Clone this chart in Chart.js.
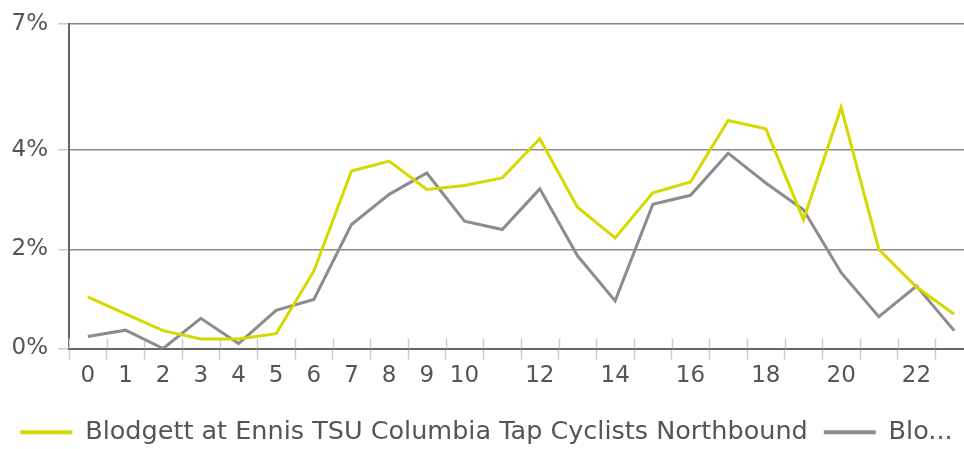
<!DOCTYPE html>
<html>
<head>
<meta charset="utf-8">
<script src="https://cdn.jsdelivr.net/npm/chart.js@4/dist/chart.umd.min.js"></script>
<style>
  html, body { margin: 0; padding: 0; background: #fff; overflow: hidden; }
  #wrap { position: relative; width: 980px; height: 455px; }
</style>
</head>
<body>
<div id="wrap"><canvas id="hourChart"></canvas></div>
<script>
// hours of the day
var hours = ['0','1','2','3','4','5','6','7','8','9','10','11','12','13','14','15','16','17','18','19','20','21','22','23'];

// share of daily count per hour (%)
var northbound = [1.04, 0.70, 0.36, 0.19, 0.19, 0.30, 1.56, 3.58, 3.78, 3.21, 3.29, 3.44,
                  4.23, 2.85, 2.23, 3.14, 3.36, 4.60, 4.43, 2.60, 4.86, 2.00, 1.24, 0.69];
var southbound = [0.24, 0.37, 0.00, 0.61, 0.10, 0.77, 0.99, 2.50, 3.11, 3.54, 2.57, 2.40,
                  3.22, 1.87, 0.96, 2.91, 3.09, 3.94, 3.34, 2.80, 1.53, 0.64, 1.26, 0.36];

var seriesNames = ['Blodgett at Ennis TSU Columbia Tap Cyclists Northbound', 'Blo...'];
var yTicks = [0, 2, 4, 6.55];

var FONT = '"DejaVu Sans"';
var TEXT = '#555';

// short tick marks that cross the x axis line (the part above it)
var crossTicks = {
  id: 'crossTicks',
  beforeDatasetsDraw: function (chart) {
    var x = chart.scales.x, ctx = chart.ctx;
    var half = (x.getPixelForValue(1) - x.getPixelForValue(0)) / 2;
    ctx.save();
    ctx.strokeStyle = '#ccc';
    ctx.lineWidth = 1.5;
    for (var i = 0; i <= hours.length; i++) {
      var px = Math.round(x.getPixelForValue(i) - half) + 0.5;
      ctx.beginPath();
      ctx.moveTo(px, x.top - 10);
      ctx.lineTo(px, x.top);
      ctx.stroke();
    }
    ctx.restore();
  }
};

new Chart(document.getElementById('hourChart'), {
  type: 'line',
  data: {
    labels: hours,
    datasets: [
      {
        label: seriesNames[0],
        data: northbound,
        borderColor: '#d4d900',
        backgroundColor: '#d4d900',
        borderWidth: 3,
        pointRadius: 0,
        tension: 0
      },
      {
        label: seriesNames[1],
        data: southbound,
        borderColor: '#8c8c8c',
        backgroundColor: '#8c8c8c',
        borderWidth: 3,
        pointRadius: 0,
        tension: 0
      }
    ]
  },
  options: {
    responsive: true,
    maintainAspectRatio: false,
    animation: false,
    layout: { padding: { top: 8, right: 7, left: 0, bottom: 0 } },
    plugins: {
      tooltip: { enabled: false },
      legend: {
        position: 'bottom',
        labels: {
          font: { family: FONT, size: 25.5 },
          color: TEXT,
          boxWidth: 52,
          boxHeight: 4,
          padding: 16,
          generateLabels: function (chart) {
            return chart.data.datasets.map(function (ds, i) {
              return {
                text: ds.label,
                fillStyle: ds.borderColor,
                strokeStyle: ds.borderColor,
                lineWidth: 0,
                fontColor: TEXT,
                datasetIndex: i
              };
            });
          }
        }
      }
    },
    scales: {
      x: {
        offset: true,
        afterFit: function (scale) { scale.height = 55; },
        grid: {
          offset: true,
          drawOnChartArea: false,
          tickLength: 11,
          tickColor: '#ccc',
          tickWidth: 1.5
        },
        border: { color: '#666', width: 2 },
        ticks: {
          autoSkip: false,
          maxRotation: 0,
          padding: 3,
          color: TEXT,
          font: { family: FONT, size: 23 },
          callback: function (v) {
            return (v <= 10 || v % 2 === 0) ? hours[v] : '';
          }
        }
      },
      y: {
        min: 0,
        max: 6.55,
        afterBuildTicks: function (scale) {
          scale.ticks = yTicks.map(function (v) { return { value: v }; });
        },
        afterFit: function (scale) { scale.width = 69; },
        grid: {
          color: '#8a8a8a',
          lineWidth: 1.5,
          tickLength: 11,
          tickColor: '#ccc'
        },
        border: { color: '#666', width: 2 },
        ticks: {
          padding: 10,
          color: TEXT,
          font: { family: FONT, size: 23 },
          callback: function (v) { return Math.round(v) + '%'; }
        }
      }
    }
  },
  plugins: [crossTicks]
});
</script>
</body>
</html>
